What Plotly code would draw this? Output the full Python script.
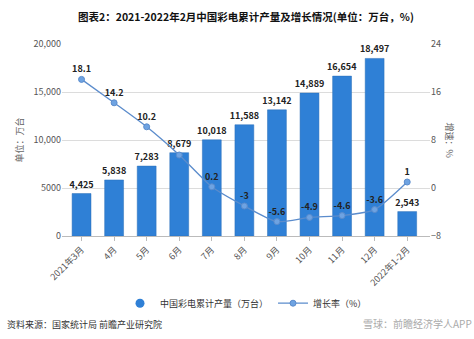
import plotly.graph_objects as go

categories = ["2021年3月", "4月", "5月", "6月", "7月", "8月", "9月", "10月", "11月", "12月", "2022年1-2月"]
production = [4425, 5838, 7283, 8679, 10018, 11588, 13142, 14889, 16654, 18497, 2543]
growth = [18.1, 14.2, 10.2, 5.5, 0.2, -3, -5.6, -4.9, -4.6, -3.6, 1]
hidden_growth_labels = [3]

left_ticks = [0, 5000, 10000, 15000, 20000]
left_ticktext = ["0", "5000", "10,000", "15,000", "20,000"]
right_ticks = [-8, 0, 8, 16, 24]

FONT = "Noto Sans CJK SC, Noto Sans, sans-serif"
BAR_COLOR = "#2f80d6"
bar_text = [f"{v:,}" for v in production]
growth_text = ["" if i in hidden_growth_labels else f"{g:g}" for i, g in enumerate(growth)]
xs = list(range(len(categories)))

fig = go.Figure()
fig.add_trace(go.Bar(
    x=xs, y=production, name="中国彩电累计产量（万台）", showlegend=False,
    marker=dict(color=BAR_COLOR, line=dict(color="#2a6fb8", width=0.5)),
    width=0.58,
    text=bar_text, textposition="outside", cliponaxis=False, constraintext="none",
    textfont=dict(size=9, color="#222", family=FONT, weight="bold"),
))
# legend entry for bars drawn as a circle, as in the reference
fig.add_trace(go.Scatter(
    x=[None], y=[None], mode="markers", name="中国彩电累计产量（万台）",
    marker=dict(color=BAR_COLOR, size=9, symbol="circle"),
))
fig.add_trace(go.Scatter(
    x=xs, y=growth, name="增长率（%）", yaxis="y2",
    mode="lines+markers+text",
    line=dict(color="#5b8ccc", width=1.3, shape="spline", smoothing=0.6),
    marker=dict(color="#6ea3e2", size=6, line=dict(color="#5b8ccc", width=1)),
    text=growth_text, textposition="top center", cliponaxis=False,
    textfont=dict(size=9, color="#222", family=FONT, weight="bold"),
))

fig.update_layout(
    width=474, height=339,
    margin=dict(l=62, r=44, t=44, b=103, autoexpand=False),
    paper_bgcolor="white", plot_bgcolor="white",
    font=dict(family=FONT, color="#555", size=9),
    showlegend=True,
    legend=dict(orientation="h", x=0.5, xanchor="center", y=-0.35, yanchor="middle",
                font=dict(size=9, color="#333"), itemwidth=30, tracegroupgap=0),
    xaxis=dict(
        tickmode="array", tickvals=xs, ticktext=categories,
        tickangle=-45, range=[-0.6, 10.7], showgrid=False,
        showline=True, linecolor="#bbb", linewidth=1,
        ticks="outside", ticklen=4, tickcolor="#bbb",
        tickfont=dict(size=9, color="#555"), automargin=False,
    ),
    yaxis=dict(
        range=[0, 20000], tickmode="array", tickvals=left_ticks, ticktext=left_ticktext,
        showgrid=True, gridcolor="#dcdcdc", gridwidth=1, zeroline=False,
        tickfont=dict(size=9, color="#555"), automargin=False,
        title=dict(text="单位：万台", font=dict(size=9, color="#666"), standoff=8),
    ),
    yaxis2=dict(
        range=[-8, 24], tickmode="array", tickvals=right_ticks,
        overlaying="y", side="right", showgrid=False, zeroline=False,
        tickfont=dict(size=9, color="#555"), automargin=False,
    ),
    annotations=[
        dict(text="<b>图表2：2021-2022年2月中国彩电累计产量及增长情况(单位：万台，%)</b>",
             x=0.5, xref="paper", y=1, yref="paper", yanchor="bottom", yshift=18,
             showarrow=False, font=dict(size=10.5, color="#111")),
        dict(text="增速：%", textangle=90, xref="paper", yref="paper",
             x=1.0, xshift=28, y=0.5, showarrow=False,
             font=dict(size=9, color="#666")),
        dict(text="资料来源：国家统计局 前瞻产业研究院", xref="paper", yref="paper",
             x=0, xshift=-57, xanchor="left", y=0, yshift=-97, showarrow=False,
             font=dict(size=9, color="#333")),
        dict(text="雪球：前瞻经济学人APP", xref="paper", yref="paper",
             x=1.0, xshift=44, xanchor="right", y=0, yshift=-97, showarrow=False,
             font=dict(size=10, color="#aaa")),
    ],
)

fig.write_html("out.html")
